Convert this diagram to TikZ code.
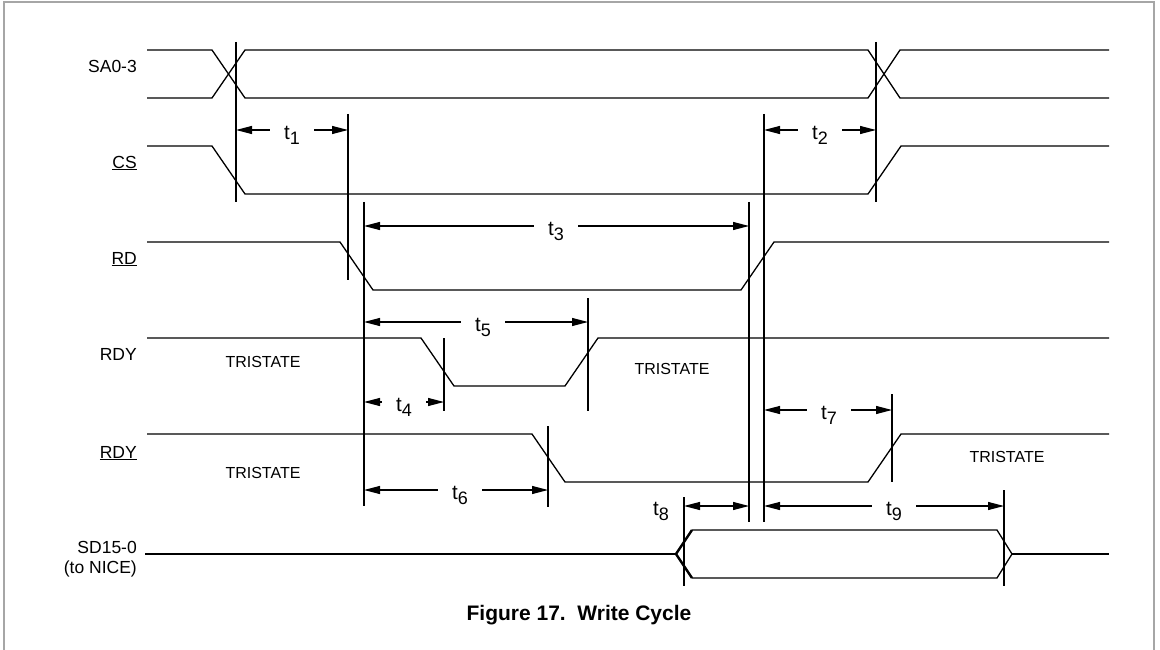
\documentclass[tikz,border=0pt]{standalone}
\usepackage{fontspec}
\setmainfont{Liberation Sans}
\usepackage{tikz}
\usetikzlibrary{arrows.meta, positioning, calc}

% time label: t with a lowered index
\newcommand{\tsub}[1]{{\fontsize{20.5}{23}\selectfont t\raisebox{-5pt}{\fontsize{18}{20}\selectfont #1}}}

\tikzset{
    sig/.style={line width=1.3pt, line join=miter},
    tickln/.style={line width=1.1pt},
    dimline/.style={line width=1.1pt, {Triangle[length=16pt,width=8pt]}-{Triangle[length=16pt,width=8pt]}},
    tlab/.style={fill=white, inner xsep=14pt, inner ysep=0pt, yshift=-5pt},
    siglab/.style={anchor=base east, inner sep=0pt, font=\fontsize{17.5}{20}\selectfont},
    tri/.style={inner sep=0pt, font=\fontsize{16}{18}\selectfont}
}

\begin{document}
\begin{tikzpicture}[x=1pt,y=-1pt]

\useasboundingbox (0,0) rectangle (1160,650);

% Frame
\draw[gray!70, line width=1.5pt] (4,2) rectangle (1154,662);

% Signal names
\node[siglab] (nSA) at (137,73) {SA0-3};
\node[siglab] (nCS) at (137,168) {\underline{CS}};
\node[siglab] (nRD) at (137,264) {\underline{RD}};
\node[siglab] (nRDY) at (137,360) {RDY};
\node[siglab] (nRDYn) at (137,458) {\underline{RDY}};
\node[siglab] (nSD) at (137,553) {SD15-0};
\node[siglab] (nSDb) at (137,573) {(to NICE)};

% Address lines
\draw[sig] (147,50) -- (212,50) -- (245,98) -- (868,98) -- (900,50) -- (1109,50);
\draw[sig] (147,98) -- (212,98) -- (245,50) -- (868,50) -- (900,98) -- (1109,98);

% Strobes: high, fall, low, rise, high
\foreach \yh/\xa/\xb in {146/212/868, 242/340/741, 338/421/565, 434/532/868} {
    \draw[sig] (147,\yh) -- (\xa,\yh) -- ($(\xa,\yh)+(33,48)$) -- (\xb,\yh+48)
        -- ($(\xb,\yh)+(33,0)$) -- (1109,\yh);
}

% Data bus
\coordinate (busL) at (676,554);
\coordinate (busR) at (1012,554);
\draw[sig] (145,554) -- (busL);
\draw[sig] (busR) -- (1109,554);
\draw[line width=2.4pt] (692,530) -- (busL) -- (692,578);
\draw[sig] (692,530) -- (997,530) -- (busR) -- (997,578) -- (692,578);

% Tristate texts
\node[tri] (tr1) at (263,362) {TRISTATE};
\node[tri] (tr2) at (672,369) {TRISTATE};
\node[tri] (tr3) at (263,473) {TRISTATE};
\node[tri] (tr4) at (1007,457) {TRISTATE};

% Reference marks
\foreach \n/\x/\a/\b in {A/236/42/202, B/876/42/202, C/348/114/280, D/764/114/522,
                         E/364/202/506, F/749/202/522, G/444/338/411, H/588/298/411,
                         I/892/394/482, J/548/426/507, K/684/497/586, L/1004/490/586} {
    \coordinate (\n t) at (\x,\a);
    \coordinate (\n b) at (\x,\b);
    \draw[tickln] (\n t) -- (\n b);
}

% Timing arrows
\foreach \n/\xa/\xb/\y/\xl in {1/236/348/130/292, 2/764/876/130/820, 3/364/749/226/556,
                               5/364/588/322/483, 4/364/444/402/404, 6/364/548/490/460,
                               7/764/892/410/829, 9/764/1004/506/894} {
    \coordinate (d\n a) at (\xa,\y);
    \coordinate (d\n b) at (\xb,\y);
    \draw[dimline] (d\n a) -- (d\n b);
    \node[tlab] (lab\n) at (\xl,\y) {\tsub{\n}};
}
\coordinate (d8a) at (684,506);
\coordinate (d8b) at (749,506);
\draw[dimline] (d8a) -- (d8b);
\node[inner sep=0pt, yshift=-5pt] (lab8) at (661,506) {\tsub{8}};

% Caption
\node[anchor=base, inner sep=0pt, font=\bfseries\fontsize{21}{24}\selectfont] (cap) at (579,620)
    {Figure 17.\hspace{0.55em}Write Cycle};

\end{tikzpicture}
\end{document}
